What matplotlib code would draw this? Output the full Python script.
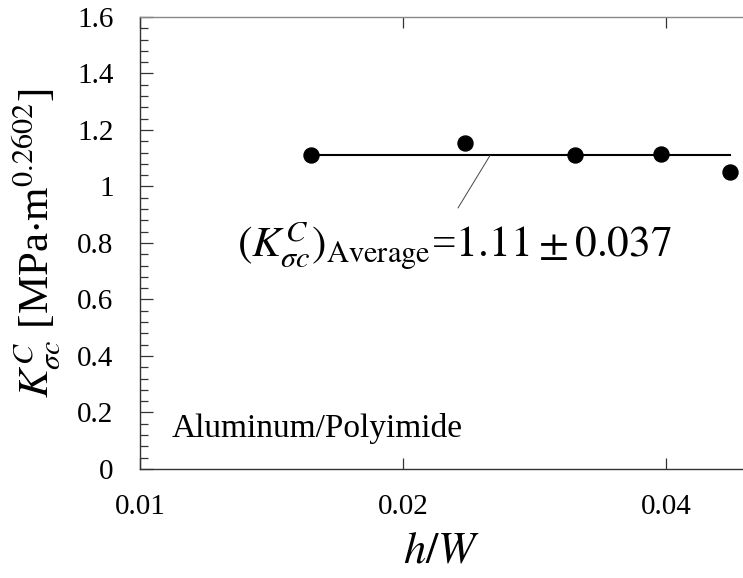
import matplotlib
matplotlib.use("Agg")
import matplotlib.pyplot as plt
from matplotlib.ticker import FixedLocator, NullLocator, MultipleLocator, FixedFormatter

plt.rcParams["font.family"] = ["Liberation Serif", "DejaVu Serif"]
plt.rcParams["mathtext.fontset"] = "stix"

# Measured critical stress intensity vs. thickness ratio
h_over_w = [0.01569, 0.02358, 0.03150, 0.03948, 0.04734]
k_sigma_c = [1.111, 1.155, 1.112, 1.116, 1.052]
k_average = 1.11
k_std = 0.037

x_ticks = [0.01, 0.02, 0.04]
x_tick_labels = ["0.01", "0.02", "0.04"]
y_ticks = [0, 0.2, 0.4, 0.6, 0.8, 1.0, 1.2, 1.4, 1.6]
y_tick_labels = ["0", "0.2", "0.4", "0.6", "0.8", "1", "1.2", "1.4", "1.6"]

fig = plt.figure(figsize=(7.43, 5.78), dpi=100)
ax = fig.add_axes([0.1884, 0.1886, 0.8116, 0.782])

ax.set_xscale("log")
ax.set_xlim(0.01, 0.0490)
ax.set_ylim(0, 1.6)

# average line across the measured range
ax.plot([h_over_w[0], h_over_w[-1]], [k_average, k_average],
        color="black", lw=1.5, zorder=2)
ax.plot(h_over_w, k_sigma_c, "o", color="black", ms=10.8, zorder=3)

# leader line from the average line towards the label
ax.annotate("", xy=(0.02516, k_average), xytext=(0.02312, 0.924),
            arrowprops=dict(arrowstyle="-", color="#444444", lw=0.7,
                            shrinkA=0, shrinkB=0))
ax.text(0.01291, 0.750,
        r"$(K^{C}_{\sigma c})_{\mathrm{Average}}$" + "=" +
        rf"${k_average:.2f}\pm{k_std:.3f}$",
        ha="left", va="baseline", fontsize=31.3)

ax.text(0.01088, 0.113, "Aluminum/Polyimide", fontsize=24,
        ha="left", va="baseline")

ax.xaxis.set_major_locator(FixedLocator(x_ticks))
ax.xaxis.set_major_formatter(FixedFormatter(x_tick_labels))
ax.xaxis.set_minor_locator(NullLocator())
ax.yaxis.set_major_locator(FixedLocator(y_ticks))
ax.yaxis.set_major_formatter(FixedFormatter(y_tick_labels))
ax.yaxis.set_minor_locator(MultipleLocator(0.04))

ax.tick_params(axis="x", which="major", direction="in", top=True, bottom=True,
               length=8, width=0.9, labelsize=21, pad=18, color="#333333")
ax.tick_params(axis="y", which="major", direction="in", left=True, right=False,
               length=9, width=0.9, labelsize=21, pad=19, color="#333333")
ax.tick_params(axis="y", which="minor", direction="in", left=True, right=False,
               length=6, width=0.9, color="#333333")

ax.spines["right"].set_visible(False)
ax.spines["top"].set_color("#888888")
ax.spines["left"].set_color("#333333")
ax.spines["bottom"].set_color("#333333")
for s in ax.spines.values():
    s.set_linewidth(1.0)

ax.set_xlabel(r"$h/W$", fontsize=32, labelpad=8)
ax.set_ylabel(r"$K^{C}_{\sigma c}$ [MPa$\cdot$m$^{0.2602}$]", fontsize=31, labelpad=10)

fig.savefig("out.png", dpi=100)
